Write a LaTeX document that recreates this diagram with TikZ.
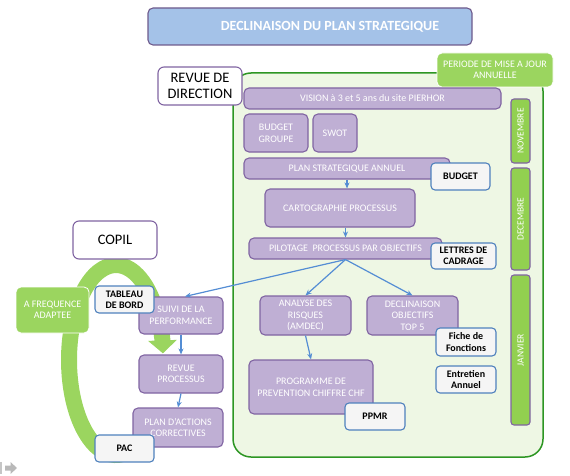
\documentclass[tikz,border=0pt]{standalone}
\usepackage{fontspec}
\setmainfont{Carlito}
\usetikzlibrary{arrows.meta,calc}
\definecolor{lav}{RGB}{191,175,212}
\definecolor{lavb}{RGB}{128,100,162}
\definecolor{grn}{RGB}{146,208,80}
\definecolor{grnl}{RGB}{155,213,95}
\definecolor{cont}{RGB}{238,247,228}
\definecolor{contb}{RGB}{45,150,35}
\definecolor{ttl}{RGB}{164,194,232}
\definecolor{ttlb}{RGB}{110,90,140}
\definecolor{lblb}{RGB}{79,129,189}
\definecolor{arr}{RGB}{84,141,212}
\tikzset{
  pbox/.style={draw=lavb, fill=lav, line width=1.1pt, rounded corners=5pt, text=white, align=center, inner sep=1pt, font=\fontsize{10}{11.6}\selectfont},
  gbox/.style={draw=white, fill=grnl, line width=0.8pt, rounded corners=5pt, text=white, align=center, inner sep=1pt, font=\fontsize{10}{11.5}\selectfont},
  mbox/.style={draw=lavb, fill=grn, line width=1.1pt, rounded corners=3pt, text=white, inner sep=0pt, font=\fontsize{9.5}{10}\selectfont},
  lbox/.style={draw=lblb, fill=white!96!black, line width=1.1pt, rounded corners=4pt, text=black, align=center, inner sep=1pt, font=\bfseries\fontsize{10}{11.3}\selectfont},
  wbox/.style={draw=lavb, fill=white, line width=1.1pt, rounded corners=6pt, text=black, align=center, inner sep=1pt, font=\fontsize{14.5}{15.5}\selectfont},
  barrow/.style={draw=arr, line width=1.2pt, -{Stealth[length=6pt,width=5pt]}},
}
\begin{document}
\begin{tikzpicture}[x=1pt,y=-1pt]
\useasboundingbox (0,0) rectangle (570,476);
% title
\node[draw=ttlb, fill=ttl, line width=1.1pt, rounded corners=5pt, minimum width=324pt, minimum height=37pt, text=white, font=\bfseries\fontsize{14}{16}\selectfont] (title) at (310,26.5) {\hspace*{40pt}DECLINAISON DU PLAN STRATEGIQUE};
% container
\draw[draw=contb, fill=cont, line width=1.5pt, rounded corners=18pt] (233,73) rectangle (543,457);
\node[gbox, minimum width=116pt, minimum height=34pt] (periode) at (495,70) {PERIODE DE MISE A JOUR\\ANNUELLE};
\node[wbox, minimum width=84pt, minimum height=38pt] (rdir) at (200,86) {REVUE DE\\DIRECTION};
\node[pbox, minimum width=257pt, minimum height=21pt] (vision) at (372.5,98.5) {VISION à 3 et 5 ans du site PIERHOR};
\node[pbox, minimum width=64pt, minimum height=38pt] (bgroupe) at (276,133) {BUDGET\\GROUPE};
\node[pbox, minimum width=44pt, minimum height=38pt] (swot) at (335,133) {SWOT};
\node[mbox, minimum width=64pt, minimum height=19pt, rotate=90] (nov) at (520.5,131) {NOVEMBRE};
\node[mbox, minimum width=102pt, minimum height=19pt, rotate=90] (dec) at (520.5,219) {DECEMBRE};
\node[mbox, minimum width=150pt, minimum height=19pt, rotate=90] (jan) at (520.5,350) {JANVIER};
\node[pbox, minimum width=206pt, minimum height=21pt] (plan) at (347,168.5) {PLAN STRATEGIQUE ANNUEL};
\node[lbox, minimum width=59pt, minimum height=27pt] (budget) at (460.5,176.5) {BUDGET};
\node[pbox, minimum width=150pt, minimum height=38pt] (carto) at (340,208) {CARTOGRAPHIE PROCESSUS};
\node[pbox, minimum width=193pt, minimum height=21pt] (pilot) at (345.5,248.5) {PILOTAGE\ \ PROCESSUS PAR OBJECTIFS};
\node[lbox, minimum width=65pt, minimum height=26pt] (lettres) at (463.5,256) {LETTRES DE\\CADRAGE};
\node[pbox, minimum width=91pt, minimum height=39pt] (analyse) at (305.5,315.5) {ANALYSE DES\\RISQUES\\(AMDEC)};
\node[pbox, minimum width=91pt, minimum height=39pt] (declin) at (412.5,315.5) {DECLINAISON\\OBJECTIFS\\TOP 5};
\node[lbox, minimum width=60pt, minimum height=28pt] (fiche) at (466,342) {Fiche de\\Fonctions};
\node[lbox, minimum width=60pt, minimum height=27pt] (entretien) at (466,379.5) {Entretien\\Annuel};
\node[pbox, minimum width=124pt, minimum height=54pt] (prog) at (311,387) {PROGRAMME DE\\PREVENTION CHIFFRE CHF};
\node[lbox, minimum width=60pt, minimum height=27pt] (ppmr) at (375,416.5) {PPMR};
% left loop
\draw[grnl, line width=16pt, -{Triangle[width=28pt,length=13pt]}] (116,360) ++(80:47 and 95) arc[start angle=80, end angle=356, x radius=47, y radius=95];
\node[wbox, minimum width=84pt, minimum height=38pt] (copil) at (115,240) {COPIL};
\node[gbox, minimum width=73pt, minimum height=46pt] (freq) at (52.5,310) {A FREQUENCE\\ADAPTEE};
\node[pbox, minimum width=84pt, minimum height=37pt] (suivi) at (181,315.5) {SUIVI DE LA\\PERFORMANCE};
\node[lbox, minimum width=59pt, minimum height=27pt] (tableau) at (124.5,299.5) {TABLEAU\\DE BORD};
\node[pbox, minimum width=84pt, minimum height=38pt] (revue) at (181,374) {REVUE\\PROCESSUS};
\node[pbox, minimum width=90pt, minimum height=39pt] (pac) at (178,427.5) {PLAN D’ACTIONS\\CORRECTIVES};
\node[lbox, minimum width=59pt, minimum height=27pt] (pacl) at (124.5,448.5) {PAC};
% connectors
\draw[barrow] (plan.south) -- (plan.south |- carto.north);
\draw[barrow] (pilot.north |- carto.south) -- (pilot.north);
\draw[barrow] (pilot.south) -- ($(suivi.north)+(4,0)$);
\draw[barrow] (pilot.south) -- (analyse.north);
\draw[barrow] (pilot.south) -- (declin.north);
\draw[barrow] (analyse.south) -- (prog.north);
\draw[barrow] (suivi.south) -- (revue.north);
\draw[barrow] (revue.south) -- (pac.north);
% small navigation icon
\fill[gray!45] (0,462) rectangle (1.6,474);
\fill[gray!55] (5,465.5) -- (10.5,465.5) -- (10.5,462) -- (17,468) -- (10.5,474) -- (10.5,470.5) -- (5,470.5) -- cycle;
\end{tikzpicture}
\end{document}
